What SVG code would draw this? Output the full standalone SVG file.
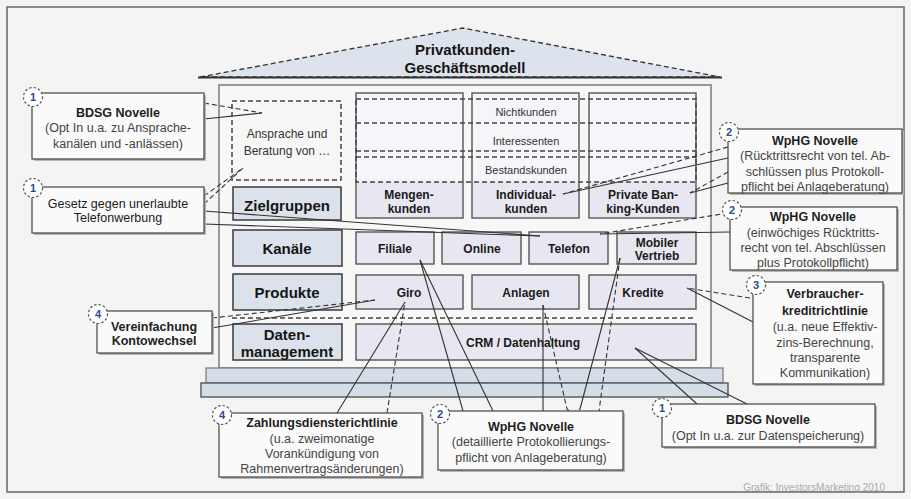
<svg xmlns="http://www.w3.org/2000/svg" width="911" height="499" viewBox="0 0 911 499">
<style>
text{font-family:"Liberation Sans",Arial,sans-serif}
.lbl{fill:#dbe2ec;stroke:#3a3a3a;stroke-width:1.5}
.lt{font-size:15px;font-weight:bold;fill:#151515;text-anchor:middle}
.cb{fill:#e8e7f1;stroke:#555;stroke-width:1.4}
.ct{font-size:12px;font-weight:bold;fill:#1a1a1a;text-anchor:middle}
.bt{font-size:11px;fill:#333;text-anchor:middle}
.call{fill:#fafafa;stroke:#444;stroke-width:1.2}
.sh{fill:#b5b5b5}
.h{font-size:12.5px;font-weight:bold;fill:#1e1e1e;text-anchor:middle}
.t{font-size:12.5px;fill:#444;text-anchor:middle}
.nc{fill:#fff;stroke:#555;stroke-width:1.2;stroke-dasharray:2.5 2}
.nt{font-size:11px;font-weight:bold;fill:#2d4a8c;text-anchor:middle}
.c{stroke:#333;stroke-width:1.1;fill:none}
.d{stroke-dasharray:5 3}
.dash{stroke:#444;stroke-width:1.5;stroke-dasharray:5 3;fill:none}
</style>
<rect x="0" y="0" width="911" height="499" fill="#f4f4f4"/>
<rect x="7" y="7" width="897" height="485" fill="#f4f4f4" stroke="#666" stroke-width="1.5"/>

<g id="house">
<polygon points="200,77 463,28 720,77" fill="#dde3ec" stroke="#333" stroke-width="1.3" stroke-dasharray="5 3"/>
<line x1="198" y1="77.5" x2="722" y2="77.5" stroke="#333" stroke-width="2"/>
<text x="465" y="55" class="lt">Privatkunden-</text>
<text x="465" y="73" class="lt">Geschäftsmodell</text>
<rect x="219" y="85" width="492" height="283" fill="#f7f7f7" stroke="#999" stroke-width="2"/>
<rect x="206" y="368" width="517" height="15" fill="#d5dde8" stroke="#777" stroke-width="1.2"/>
<rect x="201" y="383" width="527" height="14" fill="#d5dde8" stroke="#555" stroke-width="1.4"/>
</g>

<g id="ansprache">
<rect x="232" y="101" width="109" height="79" fill="#fff" class="dash"/>
<text x="287" y="138" class="bt" style="font-size:12px">Ansprache und</text>
<text x="287" y="155" class="bt" style="font-size:12px">Beratung von …</text>
</g>

<g id="zielgruppen">
<rect x="233" y="187" width="108" height="33" class="lbl"/>
<text x="287" y="211" class="lt">Zielgruppen</text>
</g>
<g id="col-mengen">
<rect x="356" y="93" width="107" height="125" fill="#f6f6fa" stroke="#555" stroke-width="1.4"/>
<rect x="357" y="182" width="105" height="35" fill="#e8e7f1"/>
<text x="409" y="199" class="ct">Mengen-</text>
<text x="409" y="213" class="ct">kunden</text>
</g>
<g id="col-individual">
<rect x="472" y="93" width="107" height="125" fill="#f6f6fa" stroke="#555" stroke-width="1.4"/>
<rect x="473" y="182" width="105" height="35" fill="#e8e7f1"/>
<text x="526" y="199" class="ct">Individual-</text>
<text x="526" y="213" class="ct">kunden</text>
</g>
<g id="col-private">
<rect x="589" y="93" width="107" height="125" fill="#f6f6fa" stroke="#555" stroke-width="1.4"/>
<rect x="590" y="182" width="105" height="35" fill="#e8e7f1"/>
<text x="643" y="199" class="ct">Private Ban-</text>
<text x="643" y="213" class="ct">king-Kunden</text>
</g>
<g id="segmente">
<rect x="356" y="99" width="340" height="83" fill="#fff" class="dash"/>
<line x1="356" y1="123" x2="696" y2="123" class="dash"/>
<line x1="356" y1="151" x2="696" y2="151" class="dash"/>
<line x1="356" y1="157" x2="696" y2="157" class="dash"/>
<text x="526" y="116" class="bt">Nichtkunden</text>
<text x="526" y="145" class="bt">Interessenten</text>
<text x="526" y="174" class="bt">Bestandskunden</text>
</g>

<g id="kanaele">
<rect x="233" y="230" width="109" height="36" class="lbl"/>
<text x="287" y="254" class="lt">Kanäle</text>
</g>
<g id="filiale"><rect x="356" y="232" width="78" height="32" class="cb"/><text x="395" y="253" class="ct">Filiale</text></g>
<g id="online"><rect x="442" y="232" width="79" height="32" class="cb"/><text x="482" y="253" class="ct">Online</text></g>
<g id="telefon"><rect x="529" y="232" width="79" height="32" class="cb"/><text x="569" y="253" class="ct">Telefon</text></g>
<g id="mobil"><rect x="617" y="232" width="79" height="32" class="cb"/><text x="657" y="247" class="ct">Mobiler</text><text x="657" y="260" class="ct">Vertrieb</text></g>

<g id="produkte">
<rect x="233" y="274" width="109" height="36" class="lbl"/>
<text x="287" y="298" class="lt">Produkte</text>
</g>
<g id="giro"><rect x="356" y="275" width="107" height="34" class="cb"/><text x="409" y="297" class="ct">Giro</text></g>
<g id="anlagen"><rect x="472" y="275" width="107" height="34" class="cb"/><text x="526" y="297" class="ct">Anlagen</text></g>
<g id="kredite"><rect x="589" y="275" width="107" height="34" class="cb"/><text x="643" y="297" class="ct">Kredite</text></g>

<line x1="232" y1="318" x2="696" y2="318" class="dash"/>

<g id="datenmanagement">
<rect x="233" y="324" width="109" height="36" class="lbl"/>
<text x="287" y="340" class="lt">Daten-</text>
<text x="287" y="357" class="lt">management</text>
</g>
<g id="crm"><rect x="356" y="324" width="340" height="36" class="cb"/><text x="523" y="347" class="ct">CRM / Datenhaltung</text></g>

<g id="connectors">
<line x1="204" y1="103" x2="262" y2="113" class="c d"/>
<line x1="204" y1="119" x2="262" y2="113" class="c"/>
<line x1="204" y1="196" x2="243" y2="168" class="c d"/>
<line x1="204" y1="204" x2="243" y2="168" class="c d"/>
<line x1="204" y1="211" x2="540" y2="236" class="c"/>
<line x1="204" y1="224" x2="540" y2="236" class="c"/>
<line x1="212" y1="318" x2="375" y2="300" class="c d"/>
<line x1="212" y1="328" x2="375" y2="300" class="c"/>
<line x1="728" y1="147" x2="563" y2="194" class="c d"/>
<line x1="728" y1="158" x2="563" y2="194" class="c"/>
<line x1="728" y1="172" x2="690" y2="193" class="c d"/>
<line x1="728" y1="183" x2="690" y2="193" class="c"/>
<line x1="728" y1="213" x2="600" y2="234" class="c d"/>
<line x1="730" y1="232" x2="600" y2="234" class="c"/>
<line x1="750" y1="298" x2="687" y2="288" class="c d"/>
<line x1="753" y1="322" x2="687" y2="288" class="c"/>
<line x1="337" y1="413" x2="405" y2="302" class="c"/>
<line x1="387" y1="413" x2="405" y2="302" class="c d"/>
<line x1="463" y1="411" x2="420" y2="260" class="c"/>
<line x1="493" y1="411" x2="420" y2="260" class="c"/>
<line x1="543" y1="411" x2="543" y2="305" class="c"/>
<path d="M543,305 L567,409 Q573,415 580,409" class="c d"/>
<line x1="580" y1="409" x2="620" y2="258" class="c"/>
<line x1="620" y1="258" x2="599" y2="411" class="c d"/>
<line x1="697" y1="404" x2="635" y2="348" class="c"/>
<line x1="747" y1="404" x2="635" y2="348" class="c"/>
</g>

<g id="callout-bdsg1">
<rect x="34" y="95" width="172" height="66" class="sh"/>
<rect x="32" y="93" width="172" height="66" class="call"/>
<text x="118" y="116.5" class="h">BDSG Novelle</text>
<text x="118" y="131.5" class="t">(Opt In u.a. zu Ansprache-</text>
<text x="118" y="147.5" class="t">kanälen und -anlässen)</text>
<circle cx="33" cy="97" r="9.5" class="nc"/><text x="33" y="101" class="nt">1</text>
</g>
<g id="callout-gesetz">
<rect x="34" y="189" width="172" height="46" class="sh"/>
<rect x="32" y="187" width="172" height="46" class="call"/>
<text x="118" y="207.5" class="h" style="font-weight:normal;fill:#1a1a1a">Gesetz gegen unerlaubte</text>
<text x="118" y="221.5" class="h" style="font-weight:normal;fill:#1a1a1a">Telefonwerbung</text>
<circle cx="33" cy="188" r="9.5" class="nc"/><text x="33" y="192" class="nt">1</text>
</g>
<g id="callout-konto">
<rect x="99" y="313" width="115" height="42" class="sh"/>
<rect x="97" y="311" width="115" height="42" class="call"/>
<text x="154" y="330.5" class="h">Vereinfachung</text>
<text x="154" y="345" class="h">Kontowechsel</text>
<circle cx="98" cy="314" r="9.5" class="nc"/><text x="98" y="318" class="nt">4</text>
</g>
<g id="callout-wphg1">
<rect x="730" y="131" width="174" height="64" class="sh"/>
<rect x="728" y="129" width="174" height="64" class="call"/>
<text x="815" y="144.5" class="h">WpHG Novelle</text>
<text x="815" y="159.5" class="t">(Rücktrittsrecht von tel. Ab-</text>
<text x="815" y="175.5" class="t">schlüssen plus Protokoll-</text>
<text x="815" y="191" class="t">pflicht bei Anlageberatung)</text>
<circle cx="729" cy="132" r="9.5" class="nc"/><text x="729" y="136" class="nt">2</text>
</g>
<g id="callout-wphg2">
<rect x="732" y="209" width="167" height="63" class="sh"/>
<rect x="730" y="207" width="167" height="63" class="call"/>
<text x="813" y="220.5" class="h">WpHG Novelle</text>
<text x="813" y="236.5" class="t">(einwöchiges Rücktritts-</text>
<text x="813" y="251.5" class="t">recht von tel. Abschlüssen</text>
<text x="813" y="266.5" class="t">plus Protokollpflicht)</text>
<circle cx="732" cy="210" r="9.5" class="nc"/><text x="732" y="214" class="nt">2</text>
</g>
<g id="callout-verbraucher">
<rect x="755" y="284" width="130" height="102" class="sh"/>
<rect x="753" y="282" width="130" height="102" class="call"/>
<text x="825" y="297.5" class="h">Verbraucher-</text>
<text x="825" y="314.5" class="h">kreditrichtlinie</text>
<text x="825" y="330.5" class="t">(u.a. neue Effektiv-</text>
<text x="825" y="346.5" class="t">zins-Berechnung,</text>
<text x="825" y="361.5" class="t">transparente</text>
<text x="825" y="376.5" class="t">Kommunikation)</text>
<circle cx="756" cy="285" r="9.5" class="nc"/><text x="756" y="289" class="nt">3</text>
</g>
<g id="callout-zahlung">
<rect x="221" y="415" width="203" height="64" class="sh"/>
<rect x="219" y="413" width="203" height="64" class="call"/>
<text x="322" y="426.5" class="h">Zahlungsdiensterichtlinie</text>
<text x="322" y="442.5" class="t">(u.a. zweimonatige</text>
<text x="322" y="457.5" class="t">Vorankündigung von</text>
<text x="322" y="472.5" class="t">Rahmenvertragsänderungen)</text>
<circle cx="222" cy="415" r="9.5" class="nc"/><text x="222" y="419" class="nt">4</text>
</g>
<g id="callout-wphg3">
<rect x="440" y="413" width="185" height="59" class="sh"/>
<rect x="438" y="411" width="185" height="59" class="call"/>
<text x="531" y="430.5" class="h">WpHG Novelle</text>
<text x="531" y="445.5" class="t">(detaillierte Protokollierungs-</text>
<text x="531" y="461.5" class="t">pflicht von Anlageberatung)</text>
<circle cx="440" cy="414" r="9.5" class="nc"/><text x="440" y="418" class="nt">2</text>
</g>
<g id="callout-bdsg2">
<rect x="664" y="406" width="213" height="43" class="sh"/>
<rect x="662" y="404" width="213" height="43" class="call"/>
<text x="768" y="423.5" class="h">BDSG Novelle</text>
<text x="768" y="439.5" class="t">(Opt In u.a. zur Datenspeicherung)</text>
<circle cx="662" cy="408" r="9.5" class="nc"/><text x="662" y="412" class="nt">1</text>
</g>

<text x="885" y="491" style="font-size:10px;fill:#aaa;text-anchor:end">Grafik: InvestorsMarketing 2010</text>
</svg>
